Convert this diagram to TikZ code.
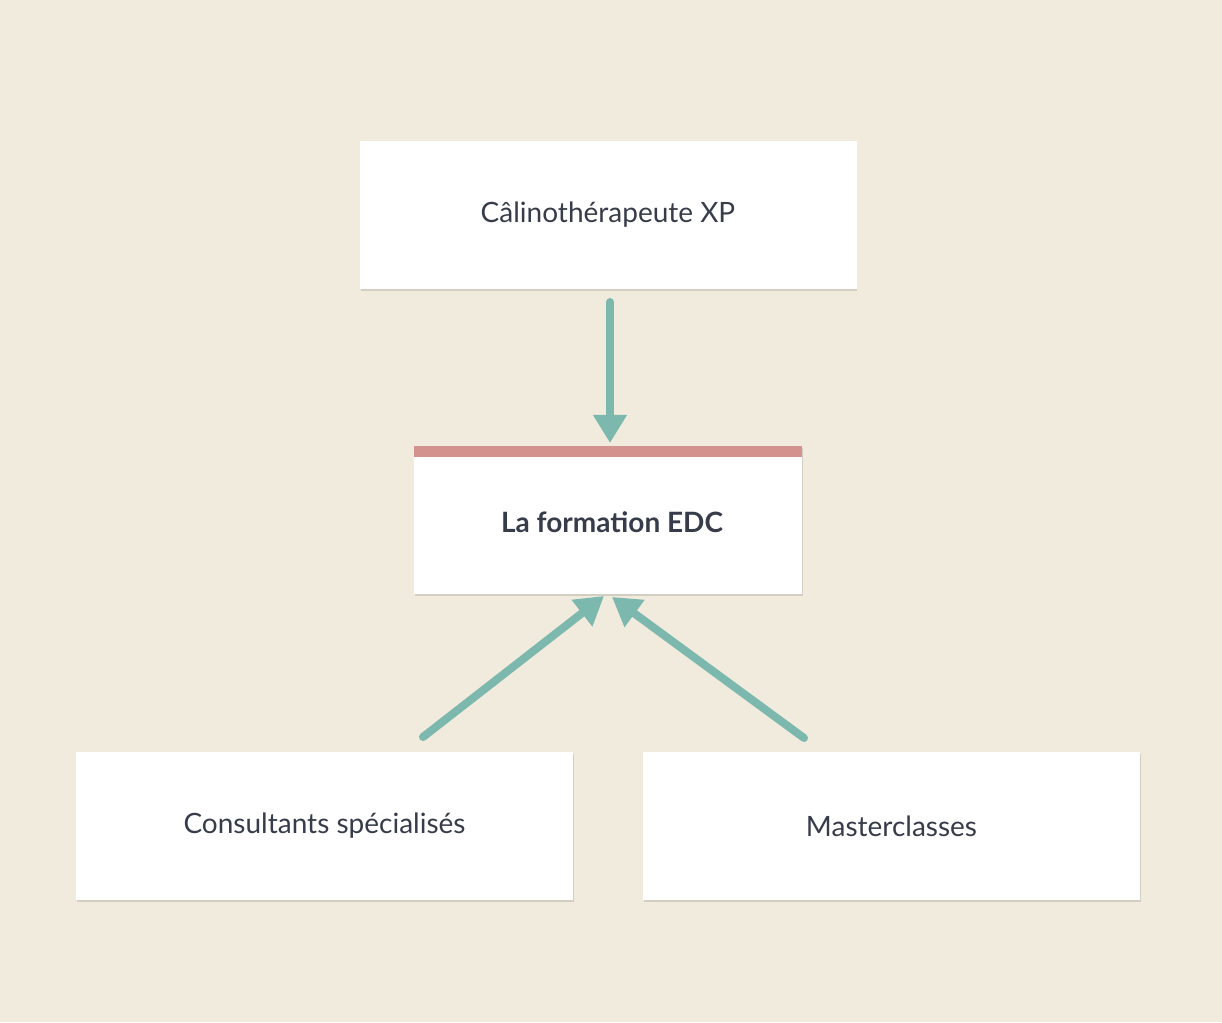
\documentclass[tikz,border=0pt]{standalone}
\usepackage{fontspec}
\setmainfont{Lato}
\usetikzlibrary{arrows.meta}
\definecolor{bg}{HTML}{F0EBDD}
\definecolor{txt}{HTML}{363C4A}
\definecolor{teal}{HTML}{7DB8AE}
\definecolor{redbar}{HTML}{D4928F}
\tikzset{
  card/.style={fill=white,minimum width=497pt,minimum height=148pt,inner sep=0pt,text=txt,
    font=\fontsize{28}{34}\selectfont,
    append after command={}},
  conn/.style={teal,line width=8pt,line cap=round,-{Triangle[length=28pt,width=32pt]}},
}
\begin{document}
\begin{tikzpicture}[x=1pt,y=1pt]
\fill[bg] (0,0) rectangle (1222,1022);
\useasboundingbox (0,0) rectangle (1222,1022);
% shadows
\foreach \a/\b/\c/\d in {360/733/856/881, 414/428/802/576, 76/122/573/270, 643/122/1140/270}{
  \fill[black,opacity=0.12] (\a+1,\b-2) rectangle (\c+1,\d-2);
}
\node[card] (top) at (608,807) {Câlinothérapeute XP};
\node[card,minimum width=388pt] (mid) at (608,502) {};
\fill[redbar] (414,565) rectangle (802,576);
\node[text=txt,font=\fontsize{28}{34}\selectfont\bfseries] (midt) at (612,500) {La formation EDC};
\node[card] (bl) at (324.5,196) {Consultants spécialisés};
\node[card] (br) at (891.5,196) {Masterclasses};
\coordinate (s1) at (610,720);
\coordinate (e1) at (610,579);
\coordinate (s2) at (423,285);
\coordinate (e2) at (604,426);
\coordinate (s3) at (804,284);
\coordinate (e3) at (612,425);
\draw[conn] (s1) -- (e1);
\draw[conn] (s2) -- (e2);
\draw[conn] (s3) -- (e3);
\end{tikzpicture}
\end{document}
